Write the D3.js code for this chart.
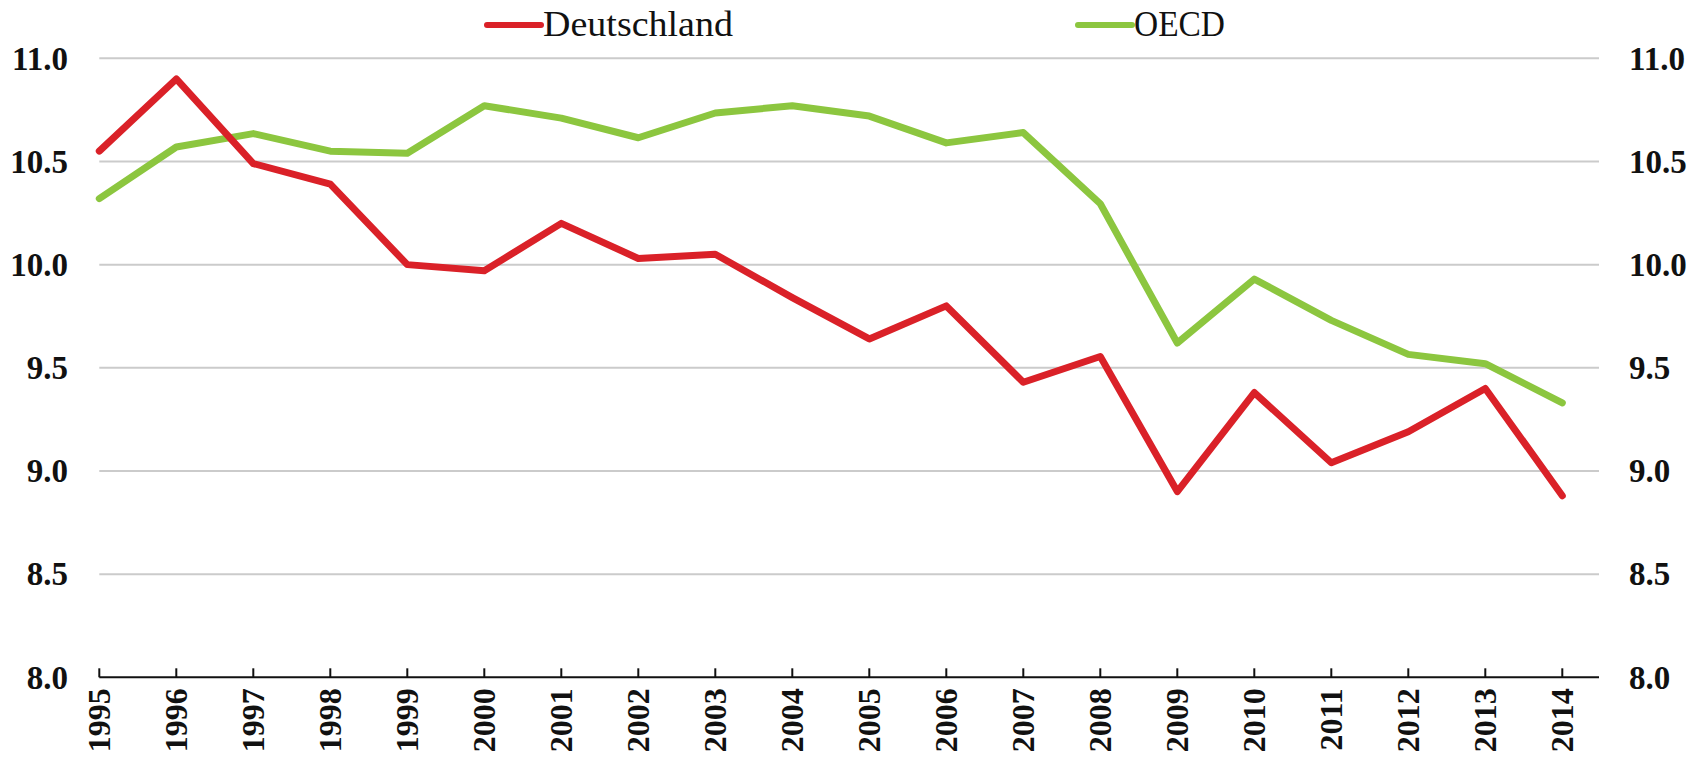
<!DOCTYPE html>
<html>
<head>
<meta charset="utf-8">
<script src="https://cdn.jsdelivr.net/npm/d3@7"></script>
<style>
  html, body { margin: 0; padding: 0; background: #fff; }
  svg { display: block; }
  text { font-family: "Liberation Serif", "Times New Roman", serif; fill: #111; }
</style>
</head>
<body>
<svg id="chart" width="1707" height="763"></svg>
<script>
const years = [1995, 1996, 1997, 1998, 1999, 2000, 2001, 2002, 2003, 2004,
               2005, 2006, 2007, 2008, 2009, 2010, 2011, 2012, 2013, 2014];
const deutschland = [10.55, 10.90, 10.49, 10.39, 10.00, 9.97, 10.20, 10.03, 10.05, 9.84,
                     9.64, 9.80, 9.43, 9.555, 8.90, 9.38, 9.04, 9.19, 9.40, 8.88];
const oecd = [10.32, 10.57, 10.635, 10.55, 10.54, 10.77, 10.71, 10.615, 10.735, 10.77,
              10.72, 10.59, 10.64, 10.295, 9.62, 9.93, 9.73, 9.565, 9.52, 9.33];
const yTicks = [8.0, 8.5, 9.0, 9.5, 10.0, 10.5, 11.0];
const seriesNames = ["Deutschland", "OECD"];
const seriesColors = ["#da2128", "#8cc63f"];

(function () {
const svg = d3.select("#chart");
const pLeft = 99.3, pRight = 1599, pTop = 58.3, pBottom = 677.3;
const step = 77.0;

const x = d3.scaleLinear().domain([1995, 2014]).range([pLeft, pLeft + 19 * step]);
const y = d3.scaleLinear().domain([8, 11]).range([pBottom, pTop]);

// gridlines
svg.append("g").selectAll("line")
  .data(yTicks.filter(d => d > 8))
  .join("line")
  .attr("x1", pLeft).attr("x2", pRight)
  .attr("y1", d => y(d)).attr("y2", d => y(d))
  .attr("stroke", "#cbcbcb").attr("stroke-width", 2);

const fmt = d3.format(".1f");
// left y labels
svg.append("g").selectAll("text")
  .data(yTicks).join("text")
  .attr("x", 68).attr("y", d => y(d)).attr("dy", "0.34em")
  .attr("text-anchor", "end")
  .attr("font-size", 33).attr("font-weight", "bold")
  .text(d => fmt(d));

// right y labels
svg.append("g").selectAll("text")
  .data(yTicks).join("text")
  .attr("x", 1629).attr("y", d => y(d)).attr("dy", "0.34em")
  .attr("text-anchor", "start")
  .attr("font-size", 33).attr("font-weight", "bold")
  .text(d => fmt(d));

// x axis line
svg.append("line")
  .attr("x1", pLeft).attr("x2", pRight)
  .attr("y1", pBottom).attr("y2", pBottom)
  .attr("stroke", "#111").attr("stroke-width", 2);

// ticks pointing up
svg.append("g").selectAll("line")
  .data(years).join("line")
  .attr("x1", d => x(d)).attr("x2", d => x(d))
  .attr("y1", pBottom).attr("y2", pBottom - 9)
  .attr("stroke", "#111").attr("stroke-width", 2);

// year labels rotated
svg.append("g").selectAll("text")
  .data(years).join("text")
  .attr("transform", d => `translate(${x(d)},${pBottom + 11}) rotate(-90)`)
  .attr("dy", "0.34em")
  .attr("text-anchor", "end")
  .attr("font-size", 32).attr("font-weight", "bold")
  .text(d => d);

// lines (green under red)
const line = d3.line().x(d => x(d[0])).y(d => y(d[1]));
const seriesData = [deutschland, oecd];
[1, 0].forEach(i => {
  svg.append("path")
    .datum(years.map((yr, j) => [yr, seriesData[i][j]]))
    .attr("d", line)
    .attr("fill", "none")
    .attr("stroke", seriesColors[i])
    .attr("stroke-width", 7)
    .attr("stroke-linejoin", "round")
    .attr("stroke-linecap", "round");
});

// legend
const legendX = [487, 1078];
const legendLen = [190, 91];
seriesNames.forEach((name, i) => {
  const g = svg.append("g");
  g.append("line")
    .attr("x1", legendX[i]).attr("x2", legendX[i] + 54)
    .attr("y1", 25).attr("y2", 25)
    .attr("stroke", seriesColors[i]).attr("stroke-width", 6)
    .attr("stroke-linecap", "round");
  g.append("text")
    .attr("x", legendX[i] + 56).attr("y", 35.7)
    .attr("font-size", 35)
    .attr("textLength", legendLen[i])
    .attr("lengthAdjust", "spacingAndGlyphs")
    .text(name);
});
})();
</script>
</body>
</html>
